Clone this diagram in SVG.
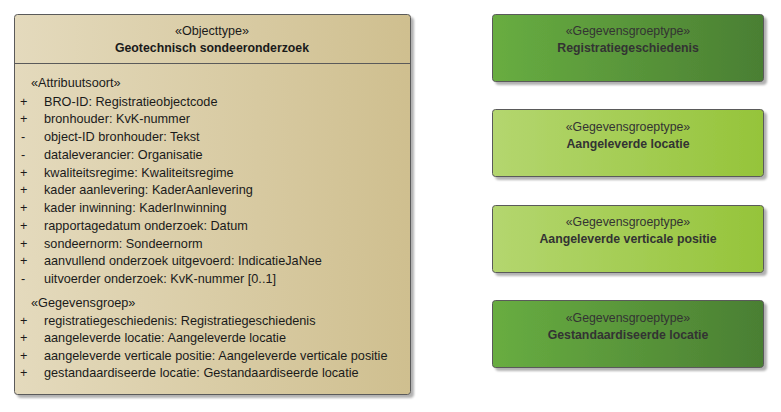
<svg xmlns="http://www.w3.org/2000/svg" width="781" height="412" viewBox="0 0 781 412">
<defs>
  <linearGradient id="gBeige" x1="0" y1="0" x2="1" y2="0">
    <stop offset="0" stop-color="#e4dabd"/>
    <stop offset="1" stop-color="#cfbf8f"/>
  </linearGradient>
  <linearGradient id="gDark" x1="0" y1="0" x2="1" y2="0">
    <stop offset="0" stop-color="#68ad41"/>
    <stop offset="1" stop-color="#4a7f33"/>
  </linearGradient>
  <linearGradient id="gLight" x1="0" y1="0" x2="1" y2="0">
    <stop offset="0" stop-color="#b4d66f"/>
    <stop offset="1" stop-color="#95c43a"/>
  </linearGradient>
  <filter id="shadow" x="-5%" y="-5%" width="115%" height="120%">
    <feDropShadow dx="3" dy="3" stdDeviation="1.2" flood-color="#000" flood-opacity="0.3"/>
  </filter>
</defs>
<style>
  text { font-family: "Liberation Sans", Arial, sans-serif; font-size: 12.3px; fill: #1a1a1a; }
  .a { font-size: 12.7px; }
  .s { font-size: 12.6px; }
  .b { font-weight: bold; }
  .c { text-anchor: middle; }
  .g { fill: #333333; }
  .box { stroke: #5a5a5a; stroke-width: 1; filter: url(#shadow); }
</style>
<rect width="781" height="412" fill="#ffffff"/>

<g id="geotechnisch-sondeeronderzoek">
  <rect class="box" x="14.5" y="14.5" width="396" height="380" rx="3" fill="url(#gBeige)"/>
  <line x1="14.5" y1="63.5" x2="410.5" y2="63.5" stroke="#5a5a5a" stroke-width="1"/>
  <text class="c s" x="212" y="35">«Objecttype»</text>
  <text class="c b" x="212" y="52">Geotechnisch sondeeronderzoek</text>
  <g class="attrs">
    <text class="a" x="31" y="87">«Attribuutsoort»</text>
    <text class="a" x="20" y="106">+</text><text class="a" x="44" y="106">BRO-ID: Registratieobjectcode</text>
    <text class="a" x="20" y="123">+</text><text class="a" x="44" y="123">bronhouder: KvK-nummer</text>
    <text class="a" x="21" y="141">-</text><text class="a" x="44" y="141">object-ID bronhouder: Tekst</text>
    <text class="a" x="21" y="159">-</text><text class="a" x="44" y="159">dataleverancier: Organisatie</text>
    <text class="a" x="20" y="177">+</text><text class="a" x="44" y="177">kwaliteitsregime: Kwaliteitsregime</text>
    <text class="a" x="20" y="194">+</text><text class="a" x="44" y="194">kader aanlevering: KaderAanlevering</text>
    <text class="a" x="20" y="212">+</text><text class="a" x="44" y="212">kader inwinning: KaderInwinning</text>
    <text class="a" x="20" y="230">+</text><text class="a" x="44" y="230">rapportagedatum onderzoek: Datum</text>
    <text class="a" x="20" y="248">+</text><text class="a" x="44" y="248">sondeernorm: Sondeernorm</text>
    <text class="a" x="20" y="265">+</text><text class="a" x="44" y="265">aanvullend onderzoek uitgevoerd: IndicatieJaNee</text>
    <text class="a" x="21" y="283">-</text><text class="a" x="44" y="283">uitvoerder onderzoek: KvK-nummer [0..1]</text>
  </g>
  <g class="groups">
    <text class="a" x="31" y="307">«Gegevensgroep»</text>
    <text class="a" x="20" y="325">+</text><text class="a" x="44" y="325">registratiegeschiedenis: Registratiegeschiedenis</text>
    <text class="a" x="20" y="342">+</text><text class="a" x="44" y="342">aangeleverde locatie: Aangeleverde locatie</text>
    <text class="a" x="20" y="360">+</text><text class="a" x="44" y="360">aangeleverde verticale positie: Aangeleverde verticale positie</text>
    <text class="a" x="20" y="377">+</text><text class="a" x="44" y="377">gestandaardiseerde locatie: Gestandaardiseerde locatie</text>
  </g>
</g>

<g id="registratiegeschiedenis">
  <rect class="box" x="492.5" y="14.5" width="271" height="67" rx="3" fill="url(#gDark)"/>
  <text class="c g" x="628" y="35">«Gegevensgroeptype»</text>
  <text class="c b g" x="628" y="52">Registratiegeschiedenis</text>
</g>

<g id="aangeleverde-locatie">
  <rect class="box" x="492.5" y="109.5" width="271" height="67" rx="3" fill="url(#gLight)"/>
  <text class="c g" x="628" y="131">«Gegevensgroeptype»</text>
  <text class="c b g" x="628" y="148">Aangeleverde locatie</text>
</g>

<g id="aangeleverde-verticale-positie">
  <rect class="box" x="492.5" y="205.5" width="271" height="67" rx="3" fill="url(#gLight)"/>
  <text class="c g" x="628" y="226">«Gegevensgroeptype»</text>
  <text class="c b g" x="628" y="243">Aangeleverde verticale positie</text>
</g>

<g id="gestandaardiseerde-locatie">
  <rect class="box" x="492.5" y="300.5" width="271" height="67" rx="3" fill="url(#gDark)"/>
  <text class="c g" x="628" y="322">«Gegevensgroeptype»</text>
  <text class="c b g" x="628" y="339">Gestandaardiseerde locatie</text>
</g>

<g id="connectors"></g>
</svg>
